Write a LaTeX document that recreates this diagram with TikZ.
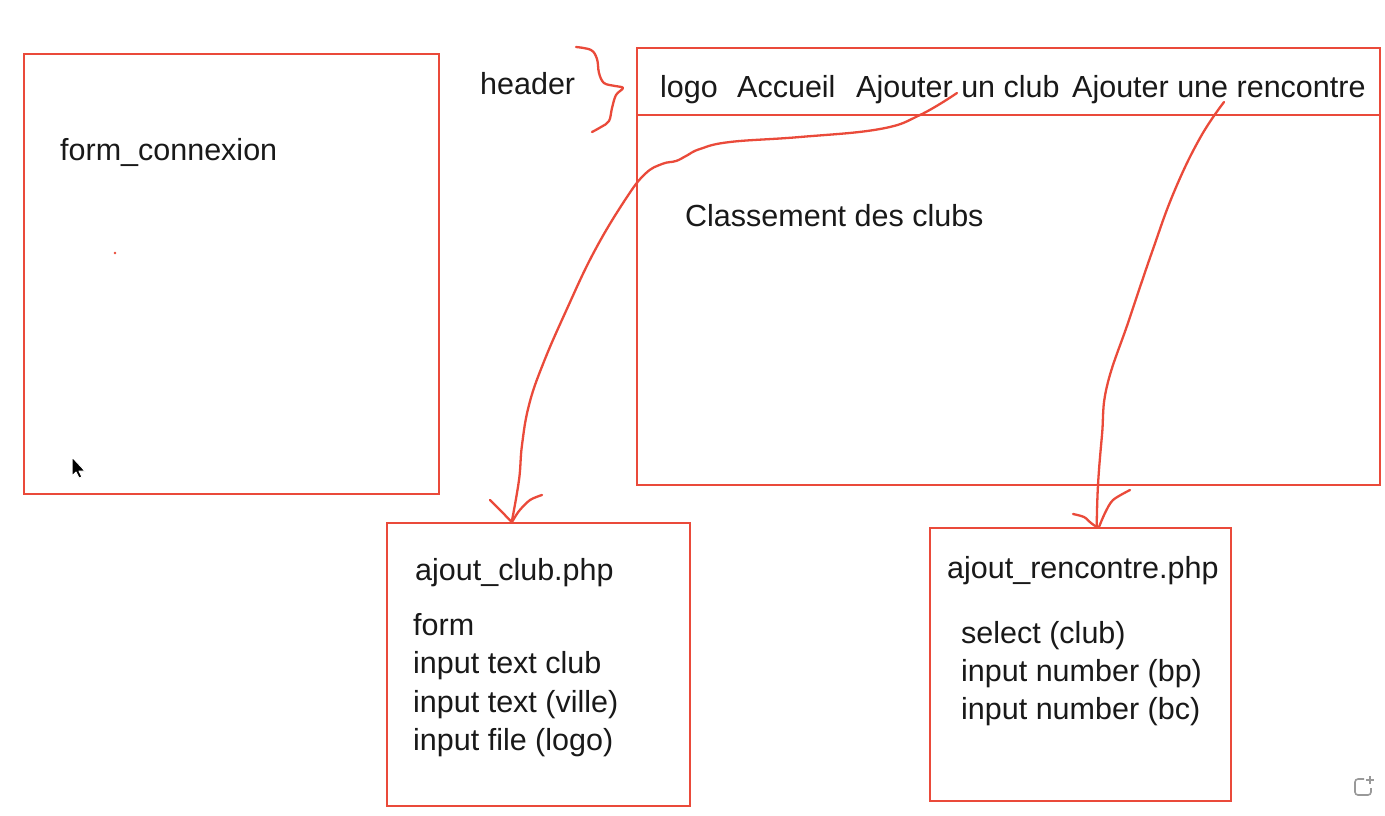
\documentclass[tikz,border=0pt]{standalone}
\usepackage{fontspec}
\setmainfont{Liberation Sans}
\begin{document}
\definecolor{pen}{RGB}{234,74,58}
\definecolor{ink}{RGB}{25,25,25}
\begin{tikzpicture}[x=1pt,y=-1pt,
  box/.style={draw=pen,line width=2.4pt,anchor=north west,inner sep=0pt},
  lbl/.style={anchor=base west,inner sep=0pt,text=ink,font=\fontsize{30.5}{36}\selectfont},
  stroke/.style={draw=pen,line width=2.3pt,line cap=round,line join=round}]
\useasboundingbox (0,0) rectangle (1385,815);
\fill[white] (0,0) rectangle (1385,815);

% page frames
\node[box,minimum width=415pt,minimum height=440pt] (login) at (23,53) {};
\node[box,minimum width=743pt,minimum height=437pt] (home) at (636,47) {};
\draw[draw=pen,line width=2.4pt] (home.west |- 0,115) coordinate (hl) -- (home.east |- 0,115) coordinate (hr);
\node[box,minimum width=303pt,minimum height=283pt] (club) at (386,522) {};
\node[box,minimum width=301pt,minimum height=273pt] (match) at (929,527) {};

% texts
\node[lbl] (tconn) at (60,160) {form\_connexion};
\node[lbl] (theader) at (480,94) {header};
\node[lbl] (tlogo) at (660,97) {logo};
\node[lbl] (tacc) at (737,97) {Accueil};
\node[lbl] (tclub) at (856,97) {Ajouter un club};
\node[lbl] (tmatch) at (1072,97) {Ajouter une rencontre};
\node[lbl] (trank) at (685,226) {Classement des clubs};
\node[lbl] (tcp) at (415,580) {ajout\_club.php};
\node[lbl] (tc1) at (413,635) {form};
\node[lbl] (tc2) at (413,673) {input text club};
\node[lbl] (tc3) at (413,712) {input text (ville)};
\node[lbl] (tc4) at (413,750) {input file (logo)};
\node[lbl] (tmp) at (947,578) {ajout\_rencontre.php};
\node[lbl] (tm1) at (961,643) {select (club)};
\node[lbl] (tm2) at (961,681) {input number (bp)};
\node[lbl] (tm3) at (961,719) {input number (bc)};

% header brace
\draw[stroke] plot[smooth,tension=0.6] coordinates {(576,47) (591,50) (597,59) (599,73) (604,83) (615,86) (623,88) (616,95) (612,108) (609,121) (601,127) (592,132)};

% link: Ajouter un club -> ajout_club.php
\coordinate (a1) at (957,93);
\coordinate (b1) at ([xshift=-27pt]club.north);
\draw[stroke] plot[smooth,tension=0.7] coordinates {(a1) (920,115) (880,129) (800,137) (730,142) (700,149) (686,156) (676,161) (662,164) (645,174) (625,200) (594,252) (566,311) (543,364) (529,405) (522,445) (519,480) (b1)};
\draw[stroke] plot[smooth] coordinates {(490,500) (500,510) (b1)};
\draw[stroke] plot[smooth] coordinates {(542,495) (530,500) (519,511) (512,522)};

% link: Ajouter une rencontre -> ajout_rencontre.php
\coordinate (a2) at (1224,102);
\coordinate (b2) at ([xshift=16pt]match.north);
\draw[stroke] plot[smooth,tension=0.7] coordinates {(a2) (1200,138) (1174,192) (1152,252) (1129,320) (1107,386) (1102,435) (1098,485) (b2)};
\draw[stroke] plot[smooth] coordinates {(1073,514) (1084,517) (1091,523) (b2)};
\draw[stroke] plot[smooth] coordinates {(1130,490) (1113,500) (1105,513) (1099,527)};

% stray pen dot
\fill[pen] (115,253) circle (1.3pt);

% mouse pointer
\draw[white,line width=1pt,fill=black,line join=round] (72,457) -- (72,476) -- (76,472) -- (79,478) -- (82,477) -- (79,471) -- (85,471) -- cycle;

% corner icon
\draw[gray!80,line width=1.6pt,rounded corners=3pt] (1364,779) -- (1355,779) -- (1355,795) -- (1371,795) -- (1371,788);
\draw[gray!80,line width=1.4pt] (1370,776) -- (1370,784) (1366,780) -- (1374,780);
\end{tikzpicture}
\end{document}
